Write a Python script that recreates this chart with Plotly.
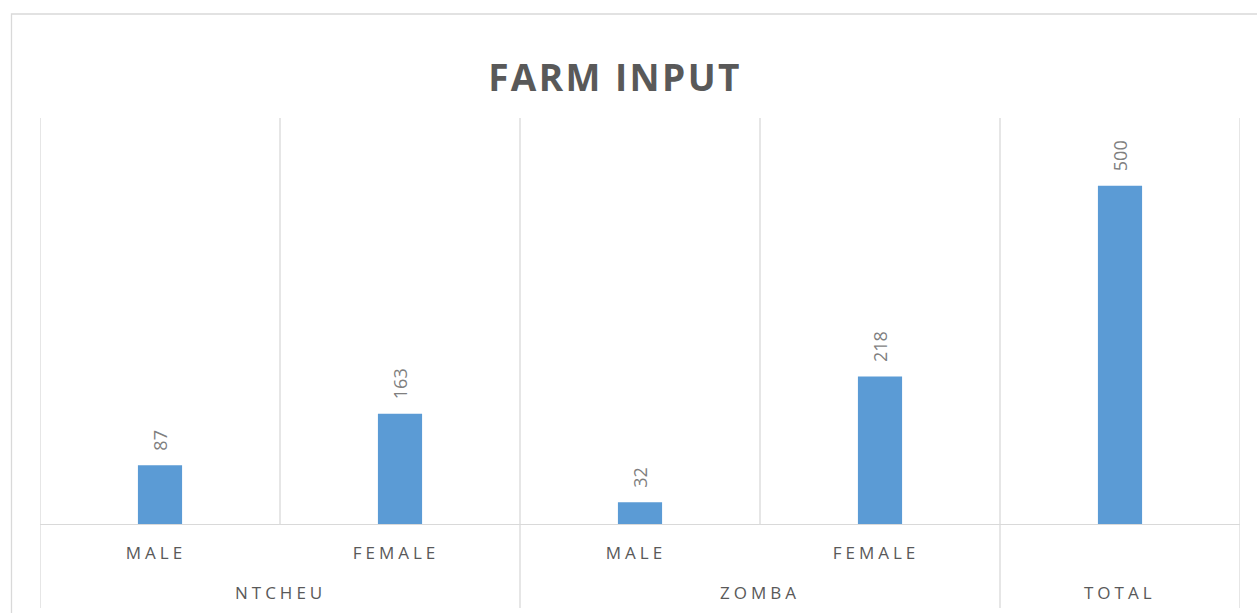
import plotly.graph_objects as go

# Farm input counts by district and gender
groups = ["NTCHEU", "ZOMBA", "TOTAL"]
group_spans = [(0, 2), (2, 4), (4, 5)]
categories = ["MALE", "FEMALE", "MALE", "FEMALE", ""]
values = [87, 163, 32, 218, 500]

positions = [i + 0.5 for i in range(len(values))]

BAR = "#5b9bd5"
GRID = "#d9d9d9"
TXT = "#595959"
LBL = "#7f7f7f"
FONT = "Open Sans"


def spaced(s, px):
    return f'<span style="letter-spacing:{px}px">{s}</span>'


fig = go.Figure()
fig.add_trace(go.Bar(
    x=positions, y=values, width=0.184,
    marker=dict(color=BAR, line=dict(width=0)),
    hoverinfo="skip",
))

# Value labels, rotated, above each bar
for xp, v in zip(positions, values):
    fig.add_annotation(
        x=xp, y=v, xref="x", yref="y", text=str(v), textangle=-90,
        showarrow=False, yanchor="bottom", xanchor="center", yshift=12,
        font=dict(family=FONT, size=18, color=LBL),
    )

# Group labels on the second category level
for g, (a, b) in zip(groups, group_spans):
    fig.add_annotation(
        x=(a + b) / 2, y=-0.168, xref="x", yref="paper", text=spaced(g, 4),
        showarrow=False, yanchor="middle", xanchor="center",
        font=dict(family=FONT, size=17, color=TXT),
    )

# Category separators: group boundaries run through both label rows
bottom = -(608 - 524) / 406
for xb in range(len(values) + 1):
    is_group = xb in (0, 2, 4, 5)
    fig.add_shape(
        type="line", xref="x", yref="paper", x0=xb, x1=xb,
        y0=bottom if is_group else 0, y1=1,
        line=dict(color=GRID, width=1.3), layer="below",
    )

# Chart frame
fig.add_shape(
    type="rect", xref="paper", yref="paper",
    x0=(11.5 - 40) / 1200, x1=(1275 - 40) / 1200,
    y0=(524 - 630) / 406, y1=(524 - 14) / 406,
    line=dict(color=GRID, width=1.3), fillcolor="rgba(0,0,0,0)", layer="below",
)

fig.update_layout(
    width=1257, height=613,
    margin=dict(l=40, r=17, t=118, b=89),
    paper_bgcolor="white", plot_bgcolor="white",
    showlegend=False,
    title=dict(
        text=f"<b>{spaced('FARM INPUT', 2.4)}</b>",
        x=615 / 1257, xanchor="center", xref="container",
        y=1 - 78 / 613, yanchor="middle", yref="container",
        font=dict(family=FONT, size=37, color=TXT),
    ),
    xaxis=dict(
        range=[0, 5], tickmode="array", tickvals=positions,
        ticktext=[spaced(c, 4) for c in categories],
        showgrid=False, zeroline=False, showline=True,
        linecolor=GRID, linewidth=1.3, ticks="",
        ticklabelstandoff=13, ticklabelshift=-4,
        tickfont=dict(family=FONT, size=17, color=TXT),
    ),
    yaxis=dict(
        range=[0, 600], showgrid=False, zeroline=False,
        showticklabels=False, showline=False, ticks="",
    ),
)

fig.write_html("out.html")
